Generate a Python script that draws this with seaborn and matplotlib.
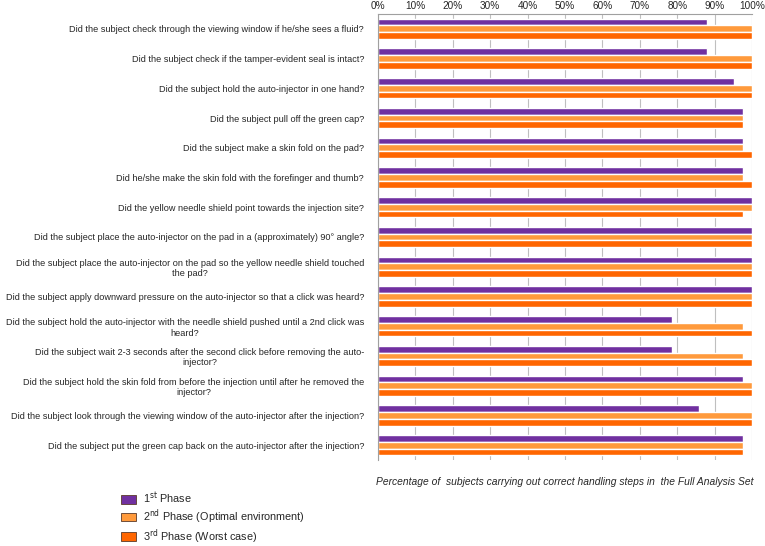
import numpy as np
import pandas as pd
import matplotlib
matplotlib.use("Agg")
import matplotlib.pyplot as plt
import seaborn as sns

questions = [
    "Did the subject check through the viewing window if he/she sees a fluid?",
    "Did the subject check if the tamper-evident seal is intact?",
    "Did the subject hold the auto-injector in one hand?",
    "Did the subject pull off the green cap?",
    "Did the subject make a skin fold on the pad?",
    "Did he/she make the skin fold with the forefinger and thumb?",
    "Did the yellow needle shield point towards the injection site?",
    "Did the subject place the auto-injector on the pad in a (approximately) 90\u00b0 angle?",
    "Did the subject place the auto-injector on the pad so the yellow needle shield touched\nthe pad?",
    "Did the subject apply downward pressure on the auto-injector so that a click was heard?",
    "Did the subject hold the auto-injector with the needle shield pushed until a 2nd click was\nheard?",
    "Did the subject wait 2-3 seconds after the second click before removing the auto-\ninjector?",
    "Did the subject hold the skin fold from before the injection until after he removed the\ninjector?",
    "Did the subject look through the viewing window of the auto-injector after the injection?",
    "Did the subject put the green cap back on the auto-injector after the injection?",
]

phase1 = [88.1, 88.1, 95.2, 97.6, 97.6, 97.6, 100, 100, 100, 100, 78.6, 78.6, 97.6, 85.7, 97.6]
phase2 = [100, 100, 100, 97.6, 97.6, 97.6, 100, 100, 100, 100, 97.6, 97.6, 100, 100, 97.6]
phase3 = [100, 100, 100, 97.6, 100, 100, 97.6, 100, 100, 100, 100, 100, 100, 100, 97.6]

series_names = ["1$^{\\mathrm{st}}$ Phase",
                "2$^{\\mathrm{nd}}$ Phase (Optimal environment)",
                "3$^{\\mathrm{rd}}$ Phase (Worst case)"]
colors = ["#7030A0", "#FF9A3C", "#FF6600"]

rows = []
for name, vals in zip(series_names, [phase1, phase2, phase3]):
    for q, v in zip(questions, vals):
        rows.append({"Question": q, "Phase": name, "Percent": v})
df = pd.DataFrame(rows)

sns.set_style("white")
plt.rcParams["font.family"] = ["Liberation Sans", "DejaVu Sans"]

fig = plt.figure(figsize=(7.65, 5.46), dpi=100)
ax = fig.add_axes([378 / 765, 1 - 460 / 546, (752 - 378) / 765, (460 - 14) / 546])

sns.barplot(data=df, y="Question", x="Percent", hue="Phase", orient="h",
            palette=colors, width=0.68, ax=ax, legend=False, saturation=1)

ax.set_xlim(0, 100)
ax.set_ylim(len(questions) - 0.5, -0.5)
ax.set_xticks(np.arange(0, 101, 10))
ax.set_xticklabels([f"{t}%" for t in range(0, 101, 10)], fontsize=7.2)
ax.xaxis.tick_top()
ax.tick_params(axis="x", length=0, pad=2)
ax.xaxis.grid(True, color="#BFBFBF", linewidth=0.8)
ax.set_axisbelow(True)

ax.set_yticks(range(len(questions)))
ax.set_yticklabels(questions, fontsize=6.6, multialignment="center")
ax.tick_params(axis="y", length=0, pad=10)
ax.set_yticks(np.arange(-0.5, len(questions) + 0.5, 1), minor=True)
ax.tick_params(axis="y", which="minor", length=3, color="#A0A0A0")

for side in ["bottom", "right"]:
    ax.spines[side].set_visible(False)
for side in ["left", "top"]:
    ax.spines[side].set_color("#A0A0A0")
    ax.spines[side].set_linewidth(0.8)

ax.set_ylabel("")
ax.set_xlabel("Percentage of  subjects carrying out correct handling steps in  the Full Analysis Set",
              fontsize=7.4, style="italic", labelpad=12)
ax.xaxis.set_label_position("bottom")

handles = [plt.Rectangle((0, 0), 1, 1, facecolor=c, edgecolor="#5A3A2A", linewidth=0.6) for c in colors]
fig.legend(handles, series_names, loc="upper left", bbox_to_anchor=(112 / 765, 1 - 482 / 546),
           frameon=False, fontsize=7.8, handlelength=1.4, handleheight=0.8, labelspacing=0.1,
           handletextpad=0.7, borderpad=0.3)

fig.savefig("out.png", dpi=100)
